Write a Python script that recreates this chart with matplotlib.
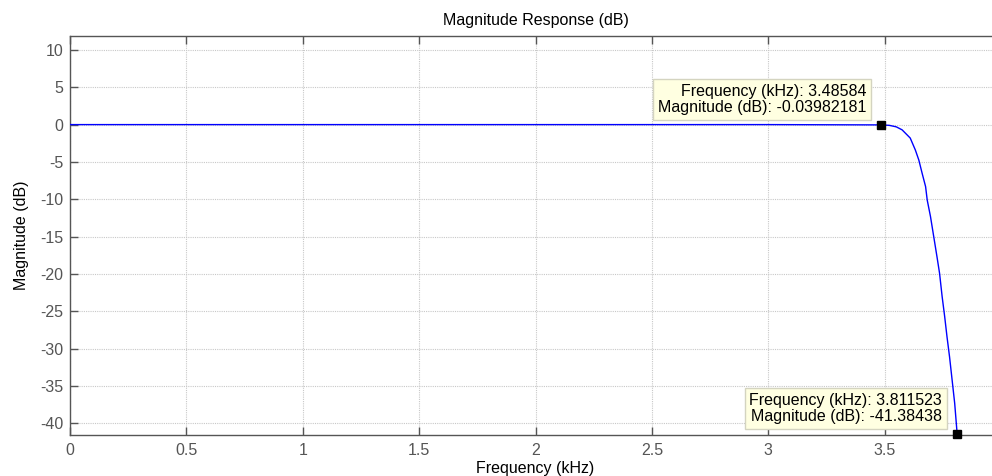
import matplotlib
matplotlib.use("Agg")
import matplotlib.pyplot as plt

plt.rcParams['font.family'] = ['Liberation Sans', 'DejaVu Sans']
plt.rcParams['axes.unicode_minus'] = False

# Data (frequency in kHz, magnitude in dB)
freq_khz = [0.0, 1.0, 2.0, 3.0, 3.48584, 3.52, 3.55, 3.575, 3.61, 3.632, 3.647, 3.661,
            3.676, 3.683, 3.697, 3.711, 3.725, 3.736, 3.747, 3.758, 3.768, 3.779,
            3.790, 3.801, 3.808, 3.811523]
mag_db = [0.0, 0.0, 0.0, 0.0, -0.03982181, -0.1, -0.3, -0.7, -1.8, -3.4, -4.75, -6.5,
          -8.3, -10.1, -12.3, -15.0, -17.7, -19.9, -23.0, -25.7, -28.4, -31.1,
          -34.2, -37.3, -40.0, -41.38438]

xticks = [0, 0.5, 1, 1.5, 2, 2.5, 3, 3.5, 4]
xticklabels = ['0', '0.5', '1', '1.5', '2', '2.5', '3', '3.5', '']
yticks = [10, 5, 0, -5, -10, -15, -20, -25, -30, -35, -40]

tip1 = (3.48584, -0.03982181)
tip2 = (3.811523, -41.38438)
tip1_text = "Frequency (kHz): 3.48584\nMagnitude (dB): -0.03982181"
tip2_text = "Frequency (kHz): 3.811523\nMagnitude (dB): -41.38438"

FS = 11.5

fig = plt.figure(figsize=(9.92, 4.76), dpi=100)
ax = fig.add_axes([70/992, 41/476, 931/992, 399.3/476])

ax.plot(freq_khz, mag_db, color=(0, 0, 1), lw=1.0, zorder=3)
ax.set_xlim(0, 4)
ax.set_ylim(-41.55, 11.9)
ax.set_xticks(xticks)
ax.set_xticklabels(xticklabels)
ax.set_yticks(yticks)

ax.grid(True, color='#c8c8c8', linestyle=(0, (1, 1)), linewidth=0.8)
ax.set_axisbelow(True)

for s in ['left', 'bottom', 'top', 'right']:
    ax.spines[s].set_color('#555555')
    ax.spines[s].set_linewidth(1.0)

ax.tick_params(axis='both', direction='in', length=6, width=1, color='#555555',
               labelcolor='#555555', labelsize=FS, top=True, right=True)
ax.tick_params(axis='x', pad=6)
ax.tick_params(axis='y', pad=5)

ax.set_title('Magnitude Response (dB)', fontsize=FS, color='black', pad=8)
ax.set_xlabel('Frequency (kHz)', fontsize=FS, color='black', labelpad=2)
ax.set_ylabel('Magnitude (dB)', fontsize=FS, color='black', labelpad=8)

for tip, txt in [(tip1, tip1_text), (tip2, tip2_text)]:
    ax.plot([tip[0]], [tip[1]], marker='s', color='black', markersize=6,
            linestyle='none', zorder=5, clip_on=False)
    ax.annotate(txt, xy=tip, xytext=(-15, 10), textcoords='offset pixels',
                ha='right', va='bottom', fontsize=FS, color='black',
                linespacing=1.1, multialignment='right', zorder=6,
                bbox=dict(boxstyle='square,pad=0.3', fc='#ffffe1', ec='#d4d4c0', lw=1))

fig.savefig('out.png', dpi=100)
